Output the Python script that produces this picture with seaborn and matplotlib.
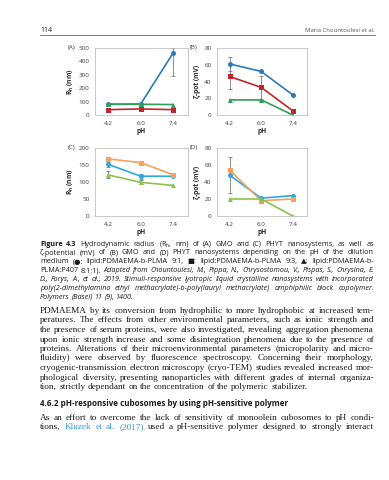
import numpy as np
import pandas as pd
import matplotlib
matplotlib.use("Agg")
import matplotlib.pyplot as plt
from matplotlib.lines import Line2D
import seaborn as sns

# data
ph = ["4.2", "6.0", "7.4"]
series = ["9:1", "9:3", "P407"]

rh_gmo = [[80, 82, 465], [40, 45, 40], [80, 80, 78]]
rh_gmo_err = [([0, 0, 175], [0, 0, 35]), ([0, 0, 0], [0, 0, 0]), ([0, 0, 0], [0, 0, 0])]
zeta_gmo = [[61, 52, 24], [46, 33, 5], [18, 18, 0]]
zeta_gmo_err = [([8, 0, 0], [8, 0, 0]), ([15, 14, 0], [15, 14, 0]), ([0, 0, 0], [0, 0, 0])]
rh_phyt = [[152, 117, 117], [168, 157, 121], [121, 99, 90]]
rh_phyt_err = [([8, 8, 0], [8, 8, 0]), ([0, 4, 0], [0, 4, 0]), ([10, 6, 0], [10, 6, 0])]
zeta_phyt = [[48, 21, 24], [54, 18, 20], [20, 20, 0]]
zeta_phyt_err = [([21, 0, 0], [21, 0, 0]), ([0, 0, 0], [0, 0, 0]), ([0, 0, 0], [0, 0, 0])]

gmo_colors = ["#2b7bba", "#c0262d", "#2e9e58"]
phyt_colors = ["#2fa7df", "#f4a15d", "#8cc24c"]

caption = [
    [("Figure 4.3", "bold"), ("Hydrodynamic radius (R$_h$, nm) of (A) GMO and (C) PHYT nanosystems, as well as", "normal")],
    [("ζ-potential (mV) of (B) GMO and (D) PHYT nanosystems depending on the pH of the dilution", "normal")],
    [("medium (●: lipid:PDMAEMA-b-PLMA 9:1, ■: lipid:PDMAEMA-b-PLMA 9:3, ▲: lipid:PDMAEMA-b-", "normal")],
    [("PLMA:P407 8:1:1).", "normal"), ("Adapted from Chountoulesi, M., Pippa, N., Chrysostomou, V., Pispas, S., Chrysina, E.", "italic")],
    [("D., Forys, A., et al., 2019. Stimuli-responsive lyotropic liquid crystalline nanosystems with incorporated", "italic")],
    [("poly(2-dimethylamino ethyl methacrylate)-b-poly(lauryl methacrylate) amphiphilic block copolymer.", "italic")],
    [("Polymers (Basel) 11 (9), 1400.", "italic")],
]

body = [
    [("PDMAEMA by its conversion from hydrophilic to more hydrophobic at increased tem-", "normal")],
    [("peratures. The effects from other environmental parameters, such as ionic strength and", "normal")],
    [("the presence of serum proteins, were also investigated, revealing aggregation phenomena", "normal")],
    [("upon ionic strength increase and some disintegration phenomena due to the presence of", "normal")],
    [("proteins. Alterations of their microenvironmental parameters (micropolarity and micro-", "normal")],
    [("fluidity) were observed by fluorescence spectroscopy. Concerning their morphology,", "normal")],
    [("cryogenic-transmission electron microscopy (cryo-TEM) studies revealed increased mor-", "normal")],
    [("phological diversity, presenting nanoparticles with different grades of internal organiza-", "normal")],
    [("tion, strictly dependant on the concentration of the polymeric stabilizer.", "normal")],
]
heading = "4.6.2 pH-responsive cubosomes by using pH-sensitive polymer"
body2 = [
    [("As an effort to overcome the lack of sensitivity of monoolein cubosomes to pH condi-", "normal")],
    [("tions,", "normal"), ("Kluzek et al. (2017)", "link"), ("used a pH-sensitive polymer designed to strongly interact", "normal")],
]

sns.set_style("white")
plt.rcParams["font.family"] = ["Open Sans", "DejaVu Sans"]
plt.rcParams["mathtext.default"] = "regular"

W, H = 389, 480
fig = plt.figure(figsize=(W / 100, H / 100), dpi=100)
renderer = fig.canvas.get_renderer()

styles = {
    "normal": {"color": "#1a1a1a"},
    "bold": {"color": "#1a1a1a", "fontweight": "bold"},
    "italic": {"color": "#1a1a1a", "fontstyle": "italic"},
    "link": {"color": "#3a9ad6"},
}


def put_line(segments, y, size, family, justify=True, x0=40, x1=374):
    arts = []
    for text, st in segments:
        for w in text.split():
            arts.append(fig.text(0, 1 - y / H, w, fontsize=size, family=family,
                                 va="center", **styles[st]))
    widths = [t.get_window_extent(renderer).width for t in arts]
    if justify and len(arts) > 1:
        gap = (x1 - x0 - sum(widths)) / (len(arts) - 1)
    else:
        gap = 0.26 * size * 100 / 72
    x = x0
    for t, w in zip(arts, widths):
        t.set_x(x / W)
        x += w + gap


def draw_panel(rect, values, errs, colors, ylim, yticks, ylabel, tag):
    ax = fig.add_axes([rect[0] / W, 1 - rect[3] / H, (rect[2] - rect[0]) / W, (rect[3] - rect[1]) / H])
    df = pd.DataFrame({
        "pos": np.tile(np.arange(3), 3),
        "val": np.concatenate(values),
        "series": np.repeat(series, 3),
    })
    sns.lineplot(data=df, x="pos", y="val", hue="series", style="series",
                 markers=["o", "s", "^"], dashes=False, palette=colors, ax=ax,
                 legend=False, linewidth=1.2, markersize=3.6, markeredgewidth=0)
    for k, (lo, hi) in enumerate(errs):
        idx = [i for i in range(3) if lo[i] > 0 or hi[i] > 0]
        if not idx:
            continue
        v = [values[k][i] for i in idx]
        ax.errorbar(idx, v, yerr=[[lo[i] for i in idx], [hi[i] for i in idx]], fmt="none",
                    ecolor="#7a7a7a", elinewidth=0.6, capsize=1.5, capthick=0.6, zorder=1)
    ax.set_xlim(-0.4, 2.45)
    ax.set_ylim(*ylim)
    ax.set_yticks(yticks)
    ax.set_xticks(range(3), ph)
    ax.set_xlabel("pH", fontsize=4.8, fontweight="bold", labelpad=1.5)
    ax.set_ylabel(ylabel, fontsize=4.8, fontweight="bold", labelpad=2)
    for s in ax.spines.values():
        s.set_color("#c0c0c0")
        s.set_linewidth(0.6)
    ax.tick_params(length=2, width=0.5, color="#c0c0c0", labelsize=4.5,
                   labelcolor="#404040", pad=2)
    fig.text((rect[0] - 27) / W, 1 - (rect[1] - 1) / H, tag, fontsize=4.5, color="#404040", va="center")
    return ax


draw_panel((95, 48, 188, 115), rh_gmo, rh_gmo_err, gmo_colors, (0, 500), range(0, 501, 100), "R$_h$ (nm)", "(A)")
draw_panel((217, 48, 307, 115), zeta_gmo, zeta_gmo_err, gmo_colors, (0, 80), range(0, 81, 20), "ζ-pot (mV)", "(B)")
draw_panel((95, 148, 188, 216), rh_phyt, rh_phyt_err, phyt_colors, (0, 200), range(0, 201, 50), "R$_h$ (nm)", "(C)")
draw_panel((217, 148, 307, 216), zeta_phyt, zeta_phyt_err, phyt_colors, (0, 80), range(0, 81, 20), "ζ-pot (mV)", "(D)")

# page header
fig.text(40 / W, 1 - 30 / H, "114", fontsize=5, color="#222222", va="center")
fig.text(375 / W, 1 - 30 / H, "Maria Chountoulesi et al.", fontsize=4.3, color="#555555", va="center", ha="right")
fig.add_artist(Line2D([40 / W, 375 / W], [1 - 35 / H] * 2, color="#666666", lw=0.6))

cap_font = ["Open Sans", "DejaVu Sans"]
for i, line in enumerate(caption):
    put_line(line, 244 + 8.9 * i, 5.2, cap_font, justify=i < len(caption) - 1)

serif = ["Liberation Serif", "DejaVu Serif"]
for i, line in enumerate(body):
    put_line(line, 311 + 9.5 * i, 6.7, serif, justify=i < len(body) - 1)

fig.text(40 / W, 1 - 404 / H, heading, fontsize=5.8, fontweight="bold", family=cap_font,
         color="#1a1a1a", va="center")
for i, line in enumerate(body2):
    put_line(line, 418 + 9.3 * i, 6.7, serif)

fig.savefig("out.png", dpi=100)
